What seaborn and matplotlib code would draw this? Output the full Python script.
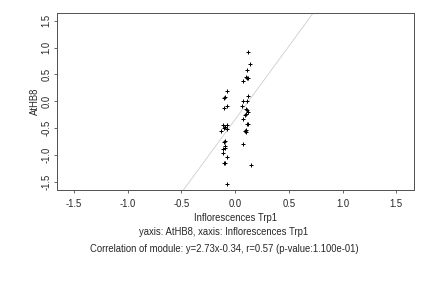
import matplotlib
matplotlib.use("Agg")
import matplotlib.pyplot as plt
import seaborn as sns
import pandas as pd

# data
x_left = [-0.079, -0.09, -0.10, -0.08, -0.10, -0.11, -0.08, -0.09, -0.10, -0.08,
          -0.135, -0.09, -0.10, -0.09, -0.09, -0.11, -0.11, -0.08, -0.10, -0.09, -0.08]
y_left = [0.19, 0.08, 0.06, -0.09, -0.12, -0.45, -0.45, -0.49, -0.50, -0.51,
          -0.555, -0.74, -0.76, -0.83, -0.88, -0.89, -0.97, -1.04, -1.16, -1.15, -1.54]
x_right = [0.122, 0.134, 0.11, 0.10, 0.11, 0.12, 0.077, 0.122, 0.077, 0.11, 0.065,
           0.10, 0.11, 0.12, 0.10, 0.09, 0.077, 0.122, 0.11, 0.10, 0.09, 0.10, 0.077, 0.147]
y_right = [0.917, 0.69, 0.58, 0.46, 0.44, 0.43, 0.376, 0.10, 0.003, 0.003, -0.09,
           -0.14, -0.17, -0.20, -0.24, -0.26, -0.33, -0.42, -0.43, -0.53, -0.56, -0.58, -0.80, -1.19]
slope = 2.73
intercept = -0.34
ticks = [-1.5, -1.0, -0.5, 0.0, 0.5, 1.0, 1.5]
xlabel = "Inflorescences Trp1"
ylabel = "AtHB8"
caption1 = "yaxis: AtHB8, xaxis: Inflorescences Trp1"
caption2 = "Correlation of module: y=2.73x-0.34, r=0.57 (p-value:1.100e-01)"

df = pd.DataFrame({"x": x_left + x_right, "y": y_left + y_right})

sns.set_style("white")
plt.rcParams["font.family"] = ["Liberation Sans", "DejaVu Sans"]

fs = 9.5
fig = plt.figure(figsize=(6, 4), dpi=72)
ax = fig.add_axes([57.3 / 432, 1 - 190 / 288, (414 - 57.3) / 432, (190 - 12.7) / 288])

ax.axline((0, intercept), slope=slope, color="#cccccc", lw=0.8, zorder=1)
sns.scatterplot(data=df, x="x", y="y", marker="+", color="black", s=20,
                linewidth=1.0, ax=ax, zorder=2)

ax.set_xlim(-1.656, 1.665)
ax.set_ylim(-1.655, 1.649)
ax.set_xticks(ticks)
ax.set_yticks(ticks)
ax.set_xticklabels([f"{t:.1f}" for t in ticks], fontsize=fs)
ax.set_yticklabels([f"{t:.1f}" for t in ticks], fontsize=fs, rotation=90, va="center")
ax.tick_params(axis="both", direction="out", length=3, width=0.8, color="#444444",
               bottom=True, left=True)
ax.tick_params(axis="x", pad=6)
ax.tick_params(axis="y", pad=3)
ax.set_xlabel(xlabel, fontsize=fs, labelpad=4)
ax.set_ylabel(ylabel, fontsize=fs, labelpad=1)
for sp in ax.spines.values():
    sp.set_color("#555555")
    sp.set_linewidth(1.0)

fig.text(224 / 432, 1 - 232 / 288, caption1, ha="center", va="center", fontsize=fs)
fig.text(224 / 432, 1 - 249 / 288, caption2, ha="center", va="center", fontsize=fs)

fig.savefig("out.png", dpi=72)
